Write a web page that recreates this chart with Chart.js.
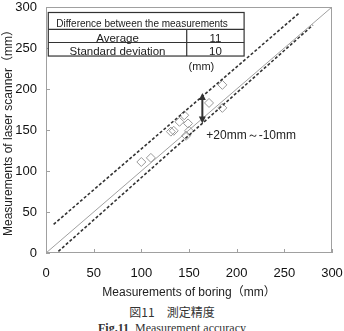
<!DOCTYPE html>
<html>
<head>
<meta charset="utf-8">
<script src="https://cdn.jsdelivr.net/npm/chart.js@4.4.1/dist/chart.umd.min.js"></script>
<style>
  body { margin: 0; background: #fff; width: 344px; height: 331px; overflow: hidden; position: relative; }
  #wrap { position: absolute; left: 0; top: 0; width: 344px; height: 300px; }
  .cap { position: absolute; left: 0; width: 344px; text-align: center; color: #333; }
  #cap1 { top: 304px; font: 12px "Noto Sans CJK JP", sans-serif; line-height: 16px; }
  #cap2 { top: 320px; font: 12px "Liberation Serif", serif; line-height: 16px; }
</style>
</head>
<body>
<div id="wrap"><canvas id="chart" width="344" height="300"></canvas></div>
<div class="cap" id="cap1">図11　測定精度</div>
<div class="cap" id="cap2"><b>Fig.11</b>&nbsp; Measurement accuracy</div>
<script>
// measured points: boring vs laser scanner (mm)
const boring  = [100, 110, 131, 134, 140, 145, 149, 150, 147, 171, 185, 185];
const scanner = [111, 116, 148, 149, 160, 168, 158, 149, 143, 183, 205, 177];

// reference lines
const equalX = [0, 300];
const equalY = [0, 300];
const upperX = [8, 266];
const upperY = [35, 293];
const lowerX = [13, 280];
const lowerY = [2, 278];

// double arrow showing the band
const arrowX = 164;
const arrowY = [158, 195];

const axisTicks = [0, 50, 100, 150, 200, 250, 300];

const tableTitle = 'Difference between the measurements';
const tableLabels = ['Average', 'Standard deviation'];
const tableValues = ['11', '10'];

const toPts = (xs, ys) => xs.map((x, i) => ({ x: x, y: ys[i] }));

const overlay = {
  id: 'overlay',
  afterDatasetsDraw(chart) {
    const ctx = chart.ctx;
    const a = chart.chartArea;
    const xs = chart.scales.x, ys = chart.scales.y;
    ctx.save();

    // frame and inner ticks
    ctx.strokeStyle = '#a0a0a0';
    ctx.lineWidth = 1;
    ctx.strokeRect(a.left + 0.5, a.top + 0.5, a.right - a.left - 1, a.bottom - a.top - 1);
    ctx.beginPath();
    axisTicks.forEach(v => {
      const px = Math.round(xs.getPixelForValue(v)) + 0.5;
      ctx.moveTo(px, a.bottom); ctx.lineTo(px, a.bottom - 4);
      const py = Math.round(ys.getPixelForValue(v)) + 0.5;
      ctx.moveTo(a.left, py); ctx.lineTo(a.left + 4, py);
    });
    ctx.stroke();

    // arrow
    const ax = xs.getPixelForValue(arrowX);
    const y1 = ys.getPixelForValue(arrowY[0]);
    const y2 = ys.getPixelForValue(arrowY[1]);
    ctx.strokeStyle = '#333';
    ctx.fillStyle = '#333';
    ctx.lineWidth = 2;
    ctx.beginPath();
    ctx.moveTo(ax, y1 - 4); ctx.lineTo(ax, y2 + 4);
    ctx.stroke();
    ctx.beginPath();
    ctx.moveTo(ax, y2); ctx.lineTo(ax - 3.5, y2 + 7); ctx.lineTo(ax + 3.5, y2 + 7); ctx.closePath();
    ctx.moveTo(ax, y1); ctx.lineTo(ax - 3.5, y1 - 7); ctx.lineTo(ax + 3.5, y1 - 7); ctx.closePath();
    ctx.fill();

    ctx.fillStyle = '#222';
    ctx.font = '12px "Liberation Sans", sans-serif';
    ctx.textAlign = 'left';
    ctx.textBaseline = 'middle';
    ctx.fillText('+20mm～-10mm', ax + 4, ys.getPixelForValue(143));

    // table
    const tl = xs.getPixelForValue(2.4), tr = xs.getPixelForValue(207.8);
    const split = xs.getPixelForValue(147.6);
    const rows = [293.3, 272.6, 256.7, 240.2].map(v => ys.getPixelForValue(v));
    ctx.fillStyle = '#fff';
    ctx.fillRect(tl, rows[0], tr - tl, rows[3] - rows[0]);
    ctx.strokeStyle = '#333';
    ctx.lineWidth = 1.2;
    ctx.strokeRect(tl, rows[0], tr - tl, rows[3] - rows[0]);
    ctx.beginPath();
    ctx.moveTo(tl, rows[1]); ctx.lineTo(tr, rows[1]);
    ctx.moveTo(tl, rows[2]); ctx.lineTo(tr, rows[2]);
    ctx.moveTo(split, rows[1]); ctx.lineTo(split, rows[3]);
    ctx.stroke();
    ctx.fillStyle = '#222';
    ctx.textBaseline = 'alphabetic';
    ctx.textAlign = 'left';
    ctx.font = '10px "Liberation Sans", sans-serif';
    ctx.fillText(tableTitle, tl + 8, rows[1] - 2);
    ctx.textAlign = 'center';
    ctx.font = '11.5px "Liberation Sans", sans-serif';
    tableLabels.forEach((t, i) => {
      const by = rows[i + 2] - 1;
      ctx.fillText(t, (tl + split) / 2, by);
      ctx.fillText(tableValues[i], (split + tr) / 2, by);
    });
    ctx.font = '11px "Liberation Sans", sans-serif';
    ctx.textBaseline = 'middle';
    ctx.fillText('(mm)', xs.getPixelForValue(163), ys.getPixelForValue(227));

    ctx.restore();
  }
};

new Chart(document.getElementById('chart').getContext('2d'), {
  type: 'scatter',
  data: {
    datasets: [
      {
        label: 'equal',
        type: 'line',
        data: toPts(equalX, equalY),
        borderColor: '#a0a0a0',
        borderWidth: 1,
        pointRadius: 0
      },
      {
        label: 'upper',
        type: 'line',
        data: toPts(upperX, upperY),
        borderColor: '#333',
        borderWidth: 1.6,
        borderDash: [3, 2],
        pointRadius: 0
      },
      {
        label: 'lower',
        type: 'line',
        data: toPts(lowerX, lowerY),
        borderColor: '#333',
        borderWidth: 1.6,
        borderDash: [3, 2],
        pointRadius: 0
      },
      {
        label: 'measured',
        data: toPts(boring, scanner),
        pointStyle: 'rectRot',
        pointRadius: 4.5,
        backgroundColor: 'rgba(255,255,255,0)',
        borderColor: '#999',
        borderWidth: 1
      }
    ]
  },
  options: {
    responsive: false,
    animation: false,
    devicePixelRatio: 1,
    layout: { padding: 0 },
    plugins: {
      legend: { display: false },
      tooltip: { enabled: false }
    },
    scales: {
      x: {
        min: 0,
        max: 300,
        afterFit: s => { s.height = 47; s.paddingLeft = 0; s.paddingRight = 12; },
        afterBuildTicks: s => { s.ticks = axisTicks.map(v => ({ value: v })); },
        grid: { display: false, drawTicks: false },
        border: { display: false },
        ticks: { padding: 13, color: '#111', maxRotation: 0, font: { family: '"Liberation Sans", sans-serif', size: 13 } },
        title: {
          display: true,
          text: 'Measurements of boring（mm）',
          color: '#222',
          padding: { top: 0, bottom: 0 },
          font: { family: '"Liberation Sans", "Noto Sans CJK JP", sans-serif', size: 12 }
        }
      },
      y: {
        min: 0,
        max: 300,
        afterFit: s => { s.width = 46; s.paddingTop = 7; s.paddingBottom = 0; },
        afterBuildTicks: s => { s.ticks = axisTicks.map(v => ({ value: v })); },
        grid: { display: false, drawTicks: false },
        border: { display: false },
        ticks: { padding: 9, color: '#111', font: { family: '"Liberation Sans", sans-serif', size: 13 } },
        title: {
          display: true,
          text: 'Measurements of laser scanner（mm）',
          color: '#222',
          padding: { top: 1, bottom: 0 },
          font: { family: '"Liberation Sans", "Noto Sans CJK JP", sans-serif', size: 12 }
        }
      }
    }
  },
  plugins: [overlay]
});
</script>
</body>
</html>
